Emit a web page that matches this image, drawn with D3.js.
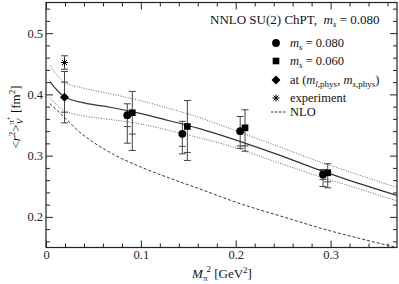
<html>
  <head>
    <meta charset="utf-8">
    <script src="https://d3js.org/d3.v7.min.js"></script>
    <style>
      body { margin: 0px; background: white; }
      text { white-space: pre; fill: #111; font-family: "Liberation Serif", "Times New Roman", serif; }
      .axis .domain { display: none; }
      .axis line { stroke: #222; stroke-width: 1; }
      .axis text { font-size: 12.5px; fill: #222; }
    </style>
  </head>
  <body>
    <svg width="399" height="284"></svg>
    <script>
      // tick labels
      var xTicks = [0, 0.1, 0.2, 0.3];
      var yTicks = [0.2, 0.3, 0.4, 0.5];

      // m_s = 0.080 (circles): x, y, stat error, total lower error
      var ms080X = [0.0857, 0.1437, 0.2047, 0.2920];
      var ms080Y = [0.366, 0.3356, 0.3399, 0.2692];
      var ms080Stat = [0.0186, 0.0204, 0.024, 0.008];
      var ms080Low = [0.0457, 0.0327, 0.028, 0.0196];

      // m_s = 0.060 (squares)
      var ms060X = [0.0910, 0.1490, 0.2098, 0.2970];
      var ms060Y = [0.370, 0.3476, 0.3454, 0.2720];
      var ms060Stat = [0.0348, 0.0424, 0.0294, 0.0147];
      var ms060Low = [0.0616, 0.0555, 0.0382, 0.0245];

      // physical point (diamond) and experiment (star)
      var physX = 0.0195, physY = 0.3954, physStat = 0.0245, physTot = 0.042;
      var expX = 0.0195, expY = 0.452, expErr = 0.011;

      // NNLO fit with error band
      var fitX = [0.004, 0.0195, 0.04, 0.0675, 0.099, 0.13, 0.162, 0.189, 0.24, 0.29, 0.315, 0.37];
      var fitY = [0.421, 0.396, 0.386, 0.379, 0.369, 0.357, 0.344, 0.331, 0.304, 0.2755, 0.262, 0.235];
      var fitHi = [0.447, 0.420, 0.410, 0.401, 0.390, 0.377, 0.362, 0.347, 0.318, 0.289, 0.276, 0.248];
      var fitLo = [0.395, 0.373, 0.365, 0.359, 0.352, 0.341, 0.329, 0.318, 0.291, 0.265, 0.253, 0.226];

      // NLO curve
      var nloX = [0.004, 0.015, 0.025, 0.035, 0.046, 0.07, 0.099, 0.1325, 0.165, 0.2, 0.25, 0.3, 0.33, 0.37];
      var nloY = [0.385, 0.369, 0.354, 0.339, 0.326, 0.303, 0.282, 0.262, 0.244, 0.224, 0.200, 0.177, 0.165, 0.150];

      var svg = d3.select('svg');
      var x = d3.scaleLinear().domain([0, 0.37]).range([46, 397]);
      var y = d3.scaleLinear().domain([0.15, 0.55]).range([247.5, 2.5]);

      var xMinor = d3.range(0.02, 0.37, 0.02).filter(v => Math.abs(v * 10 - Math.round(v * 10)) > 1e-6);
      var yMinor = d3.range(0.16, 0.55, 0.02).filter(v => Math.abs(v * 10 - Math.round(v * 10)) > 1e-6);

      function addAxis(make, scale, pos, transform, labels) {
        var g = svg.append('g').attr('class', 'axis').attr('transform', transform);
        g.append('g').call(make(scale).tickValues(pos === 'x' ? xMinor : yMinor)
          .tickSizeInner(-4).tickSizeOuter(0).tickFormat(''));
        g.append('g').call(make(scale).tickValues(pos === 'x' ? xTicks : yTicks)
          .tickSizeInner(-7).tickSizeOuter(0).tickPadding(3)
          .tickFormat(labels ? d3.format('') : ''));
        g.selectAll('g').attr('font-family', null).attr('font-size', null);
      }
      addAxis(d3.axisBottom, x, 'x', 'translate(0,247.5)', true);
      addAxis(d3.axisTop, x, 'x', 'translate(0,2.5)', false);
      addAxis(d3.axisLeft, y, 'y', 'translate(46,0)', true);
      addAxis(d3.axisRight, y, 'y', 'translate(397,0)', false);

      svg.append('rect')
        .attr('x', 46).attr('y', 2.5).attr('width', 351).attr('height', 245)
        .attr('fill', 'none').attr('stroke', '#222').attr('stroke-width', 1.2);

      var plot = svg.append('g');
      svg.append('clipPath').attr('id', 'clip').append('rect')
        .attr('x', 46).attr('y', 2.5).attr('width', 351).attr('height', 245);
      var curves = plot.append('g').attr('clip-path', 'url(#clip)');

      function line(xs, ys) {
        return d3.line().x((d, i) => x(xs[i])).y(d => y(d)).curve(d3.curveMonotoneX)(ys);
      }
      curves.append('path').attr('d', line(nloX, nloY))
        .attr('fill', 'none').attr('stroke', '#222').attr('stroke-width', 0.9).attr('stroke-dasharray', '3,2');
      [fitHi, fitLo].forEach(ys => {
        curves.append('path').attr('d', line(fitX, ys))
          .attr('fill', 'none').attr('stroke', '#666').attr('stroke-width', 1).attr('stroke-dasharray', '1,1.5');
      });
      curves.append('path').attr('d', line(fitX, fitY))
        .attr('fill', 'none').attr('stroke', '#333').attr('stroke-width', 1.2);

      // error bars
      var eb = plot.append('g').attr('stroke', '#444').attr('stroke-width', 1);
      function bar(xv, top, bottom, caps) {
        eb.append('line').attr('x1', x(xv)).attr('x2', x(xv)).attr('y1', y(top)).attr('y2', y(bottom));
        caps.forEach(c => {
          eb.append('line').attr('x1', x(xv) - 3.5).attr('x2', x(xv) + 3.5).attr('y1', y(c)).attr('y2', y(c));
        });
      }
      ms080X.forEach((xv, i) => {
        var v = ms080Y[i];
        bar(xv, v + ms080Stat[i], v - ms080Low[i], [v + ms080Stat[i], v - ms080Stat[i], v - ms080Low[i]]);
      });
      ms060X.forEach((xv, i) => {
        var v = ms060Y[i];
        bar(xv, v + ms060Stat[i], v - ms060Low[i], [v + ms060Stat[i], v - ms060Stat[i], v - ms060Low[i]]);
      });
      bar(physX, physY + physTot, physY - physTot,
        [physY + physTot, physY + physStat, physY - physStat, physY - physTot]);
      bar(expX, expY + expErr, expY - expErr, [expY + expErr, expY - expErr]);

      // markers
      var marks = plot.append('g').attr('fill', '#000');
      ms080X.forEach((xv, i) => {
        marks.append('path').attr('d', d3.symbol(d3.symbolCircle, 48)())
          .attr('transform', `translate(${x(xv)},${y(ms080Y[i])})`);
      });
      ms060X.forEach((xv, i) => {
        marks.append('path').attr('d', d3.symbol(d3.symbolSquare, 44)())
          .attr('transform', `translate(${x(xv)},${y(ms060Y[i])})`);
      });
      marks.append('path').attr('d', d3.symbol(d3.symbolSquare, 40)())
        .attr('transform', `translate(${x(physX)},${y(physY)}) rotate(45)`);

      function star(g, cx, cy, r) {
        [0, 45, 90, 135].forEach(a => {
          var dx = r * Math.cos(a * Math.PI / 180), dy = r * Math.sin(a * Math.PI / 180);
          g.append('line').attr('x1', cx - dx).attr('x2', cx + dx).attr('y1', cy - dy).attr('y2', cy + dy)
            .attr('stroke', '#000').attr('stroke-width', 1);
        });
      }
      star(plot, x(expX), y(expY), 3.6);

      // rich text helper
      function rich(t, parts) {
        var cur = 0;
        parts.forEach(p => {
          if (typeof p === 'string') p = { t: p };
          var shift = p.dy || 0;
          var ts = t.append('tspan').text(p.t).attr('dy', shift - cur);
          cur = shift;
          if (p.it) ts.attr('font-style', 'italic');
          if (p.fs) ts.attr('font-size', p.fs);
          if (p.dx) ts.attr('dx', p.dx);
        });
        return t;
      }

      // legend
      var leg = svg.append('g').attr('font-size', 12.5);
      rich(leg.append('text').attr('x', 210).attr('y', 24).attr('font-size', 13),
        ['NNLO SU(2) ChPT,  ', { t: 'm', it: 1 }, { t: 's', it: 1, dy: 3, fs: 9 }, ' = 0.080']);
      var legX = 276, txtX = 290;
      leg.append('path').attr('d', d3.symbol(d3.symbolCircle, 48)()).attr('transform', `translate(${legX},43)`);
      rich(leg.append('text').attr('x', txtX).attr('y', 47),
        [{ t: 'm', it: 1 }, { t: 's', it: 1, dy: 3, fs: 9 }, ' = 0.080']);
      leg.append('path').attr('d', d3.symbol(d3.symbolSquare, 44)()).attr('transform', `translate(${legX},61)`);
      rich(leg.append('text').attr('x', txtX).attr('y', 65),
        [{ t: 'm', it: 1 }, { t: 's', it: 1, dy: 3, fs: 9 }, ' = 0.060']);
      leg.append('path').attr('d', d3.symbol(d3.symbolSquare, 40)()).attr('transform', `translate(${legX},80) rotate(45)`);
      rich(leg.append('text').attr('x', txtX).attr('y', 84),
        ['at (', { t: 'm', it: 1 }, { t: 'l', it: 1, dy: 3, fs: 9 }, { t: ',phys', dy: 3, fs: 9 }, ', ',
          { t: 'm', it: 1 }, { t: 's', it: 1, dy: 3, fs: 9 }, { t: ',phys', dy: 3, fs: 9 }, ')']);
      star(leg, legX, 98, 3.6);
      leg.append('text').attr('x', txtX).attr('y', 102).text('experiment');
      leg.append('line').attr('x1', 271).attr('x2', 286).attr('y1', 112).attr('y2', 112)
        .attr('stroke', '#222').attr('stroke-width', 0.9).attr('stroke-dasharray', '2.5,1.5');
      leg.append('text').attr('x', txtX).attr('y', 116).text('NLO');

      // axis labels
      rich(svg.append('text').attr('x', 222).attr('y', 278).attr('text-anchor', 'middle').attr('font-size', 13),
        [{ t: 'M', it: 1 }, { t: 'π', dy: 3, fs: 9 }, { t: '2', dy: -6, fs: 9, dx: -1 }, ' [GeV', { t: '2', dy: -5, fs: 9 }, ']']);
      rich(svg.append('text').attr('transform', 'translate(20,117) rotate(-90)').attr('text-anchor', 'middle').attr('font-size', 13),
        ['<', { t: 'r', it: 1 }, { t: '2', dy: -5, fs: 9 }, '>', { t: 'V', it: 1, dy: 3, fs: 9 },
          { t: 'π', dy: -6, fs: 9, dx: -6 }, { t: '+', dy: -9, fs: 7 }, ' [fm', { t: '2', dy: -5, fs: 9 }, ']']);
    </script>
  </body>
</html>
